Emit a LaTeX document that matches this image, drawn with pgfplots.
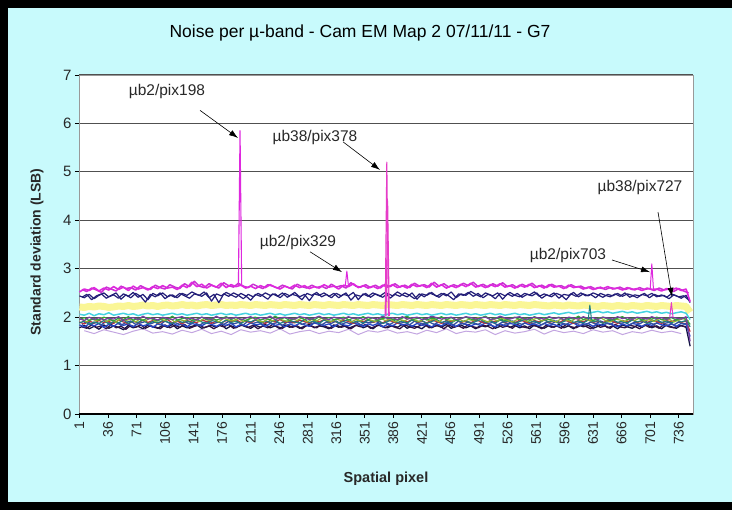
\documentclass[border=0pt]{standalone}
\usepackage{pgfplots}
\usepackage{pgfplotstable}
\pgfplotsset{compat=1.18}
\usepackage{fontspec}
\setmainfont{Liberation Sans}
\usetikzlibrary{arrows.meta}
\definecolor{bgcyan}{RGB}{200,250,252}
\definecolor{cmag}{RGB}{222,40,222}
\definecolor{cmag2}{RGB}{200,50,210}
\definecolor{cnav}{RGB}{35,30,120}
\definecolor{cyel}{RGB}{250,246,150}
\definecolor{ccya}{RGB}{70,210,225}
\definecolor{cgrn}{RGB}{50,160,60}
\definecolor{ctea}{RGB}{30,125,130}
\definecolor{cred}{RGB}{190,50,60}
\definecolor{cblu}{RGB}{40,70,200}
\definecolor{cpur}{RGB}{120,60,160}
\definecolor{cdk}{RGB}{20,20,70}
\definecolor{colv}{RGB}{150,180,50}
\definecolor{croy}{RGB}{50,80,160}
\definecolor{cdp}{RGB}{50,20,70}
\definecolor{clav}{RGB}{195,165,225}
\definecolor{cpink}{RGB}{230,60,200}
\definecolor{gridc}{RGB}{80,80,80}
\definecolor{txt}{RGB}{40,40,40}

\pgfplotstableread{
x mag nav yel cya grn tea red blu pur dk
1 2.52 2.44 2.21 2.06 1.95 1.88 1.90 1.84 1.97 1.78
7 2.58 2.40 2.20 2.04 1.99 1.92 1.86 1.80 1.93 1.83
13 2.55 2.47 2.22 2.08 1.93 1.85 1.92 1.86 2.00 1.76
19 2.61 2.38 2.21 2.03 1.97 1.90 1.88 1.82 1.95 1.81
25 2.54 2.45 2.23 2.07 1.94 1.87 1.93 1.87 1.99 1.75
31 2.60 2.50 2.22 2.05 2.00 1.93 1.89 1.79 1.94 1.84
37 2.56 2.42 2.20 2.09 1.96 1.86 1.91 1.85 1.98 1.77
43 2.63 2.46 2.21 2.04 1.92 1.91 1.87 1.81 1.96 1.82
49 2.57 2.39 2.23 2.06 1.98 1.88 1.94 1.88 2.01 1.79
55 2.62 2.48 2.22 2.08 1.95 1.94 1.90 1.83 1.93 1.74
61 2.55 2.43 2.24 2.05 2.01 1.87 1.86 1.86 1.97 1.83
67 2.64 2.51 2.22 2.07 1.94 1.92 1.92 1.80 1.99 1.78
73 2.58 2.41 2.23 2.03 1.97 1.89 1.88 1.87 1.95 1.81
79 2.61 2.47 2.25 2.06 1.93 1.95 1.94 1.82 2.02 1.76
85 2.56 2.36 2.23 2.08 1.99 1.86 1.89 1.85 1.96 1.84
91 2.63 2.49 2.24 2.05 1.96 1.91 1.93 1.79 1.98 1.80
97 2.59 2.44 2.22 2.07 1.92 1.88 1.87 1.86 1.94 1.77
103 2.65 2.50 2.24 2.04 1.98 1.93 1.91 1.84 2.00 1.83
109 2.60 2.42 2.25 2.06 1.95 1.90 1.95 1.81 1.97 1.79
115 2.62 2.46 2.23 2.08 2.02 1.87 1.88 1.88 1.95 1.85
121 2.57 2.40 2.24 2.05 1.94 1.94 1.92 1.83 1.99 1.76
127 2.66 2.49 2.26 2.07 1.97 1.89 1.86 1.86 2.01 1.82
133 2.61 2.45 2.24 2.04 1.99 1.92 1.93 1.80 1.96 1.78
139 2.72 2.52 2.25 2.06 1.93 1.88 1.90 1.87 1.98 1.81
145 2.63 2.47 2.23 2.08 1.96 1.95 1.89 1.84 1.94 1.84
151 2.68 2.43 2.25 2.05 2.00 1.90 1.94 1.82 2.00 1.77
157 2.60 2.50 2.26 2.07 1.95 1.87 1.91 1.88 1.97 1.80
163 2.66 2.33 2.24 2.04 1.98 1.93 1.87 1.85 1.95 1.83
169 2.62 2.48 2.25 2.06 1.94 1.91 1.92 1.81 2.02 1.79
175 2.70 2.44 2.26 2.08 1.97 1.88 1.88 1.86 1.96 1.85
181 2.61 2.51 2.24 2.05 2.01 1.94 1.93 1.83 1.99 1.76
187 2.67 2.46 2.25 2.07 1.95 1.89 1.90 1.87 1.97 1.82
193 2.63 2.41 2.24 2.04 1.99 1.92 1.95 1.80 2.00 1.78
199 2.66 2.49 2.26 2.06 1.96 1.87 1.89 1.85 1.95 1.84
205 2.60 2.44 2.25 2.08 1.93 1.93 1.92 1.82 1.98 1.80
211 2.64 2.35 2.24 2.05 1.98 1.90 1.88 1.88 2.01 1.77
217 2.59 2.47 2.26 2.07 2.00 1.95 1.94 1.84 1.96 1.83
223 2.65 2.43 2.25 2.04 1.94 1.88 1.91 1.86 1.99 1.79
229 2.61 2.50 2.24 2.06 1.97 1.92 1.87 1.81 1.97 1.85
235 2.67 2.45 2.26 2.08 1.95 1.89 1.93 1.87 2.02 1.78
241 2.62 2.48 2.25 2.05 2.02 1.94 1.90 1.83 1.95 1.82
247 2.58 2.40 2.24 2.07 1.96 1.87 1.95 1.85 1.98 1.76
253 2.64 2.49 2.26 2.04 1.99 1.91 1.89 1.80 2.00 1.84
259 2.60 2.44 2.25 2.06 1.93 1.93 1.92 1.86 1.97 1.79
265 2.66 2.51 2.24 2.08 1.97 1.90 1.88 1.82 1.96 1.83
271 2.61 2.42 2.26 2.05 2.00 1.88 1.94 1.87 2.01 1.77
277 2.65 2.47 2.25 2.07 1.95 1.95 1.91 1.84 1.99 1.81
283 2.59 2.34 2.24 2.04 1.98 1.89 1.87 1.81 1.95 1.85
289 2.63 2.48 2.26 2.06 1.94 1.92 1.93 1.88 1.98 1.78
295 2.60 2.45 2.25 2.08 2.01 1.87 1.90 1.85 2.02 1.82
301 2.67 2.50 2.24 2.05 1.96 1.94 1.95 1.83 1.97 1.80
307 2.62 2.43 2.26 2.07 1.99 1.90 1.89 1.86 1.95 1.76
313 2.64 2.49 2.25 2.04 1.95 1.93 1.92 1.80 2.00 1.84
319 2.58 2.40 2.24 2.06 1.97 1.88 1.88 1.87 1.98 1.79
325 2.66 2.47 2.26 2.08 2.00 1.91 1.94 1.84 1.96 1.83
331 2.63 2.44 2.25 2.05 1.94 1.95 1.91 1.82 2.01 1.77
337 2.69 2.51 2.24 2.07 1.98 1.89 1.87 1.88 1.97 1.81
343 2.61 2.36 2.26 2.04 1.96 1.92 1.93 1.85 1.99 1.85
349 2.65 2.48 2.25 2.06 2.01 1.88 1.90 1.81 1.95 1.78
355 2.60 2.43 2.24 2.08 1.95 1.94 1.95 1.86 2.00 1.82
361 2.64 2.50 2.26 2.05 1.99 1.90 1.89 1.83 1.98 1.76
367 2.59 2.45 2.25 2.07 1.93 1.93 1.92 1.87 1.96 1.84
373 2.66 2.41 2.24 2.04 1.97 1.87 1.88 1.80 2.02 1.80
379 2.62 2.49 2.26 2.06 2.00 1.91 1.94 1.85 1.97 1.78
385 2.67 2.44 2.25 2.08 1.96 1.95 1.91 1.82 1.99 1.83
391 2.61 2.52 2.24 2.05 1.94 1.89 1.87 1.88 1.95 1.79
397 2.65 2.46 2.26 2.07 1.98 1.92 1.93 1.84 2.01 1.85
403 2.60 2.42 2.25 2.04 2.02 1.88 1.90 1.86 1.96 1.77
409 2.68 2.50 2.24 2.06 1.95 1.94 1.95 1.81 1.98 1.82
415 2.63 2.37 2.26 2.08 1.97 1.90 1.89 1.87 2.00 1.80
421 2.66 2.48 2.25 2.05 1.99 1.93 1.92 1.83 1.95 1.76
427 2.61 2.45 2.24 2.07 1.94 1.87 1.88 1.85 1.97 1.84
433 2.70 2.51 2.26 2.04 1.98 1.91 1.94 1.80 2.02 1.78
439 2.62 2.43 2.25 2.06 1.96 1.95 1.91 1.86 1.99 1.83
445 2.67 2.49 2.24 2.08 2.01 1.89 1.87 1.82 1.96 1.79
451 2.60 2.44 2.26 2.05 1.95 1.92 1.93 1.88 1.98 1.85
457 2.65 2.52 2.25 2.07 1.99 1.88 1.90 1.84 2.00 1.77
463 2.61 2.40 2.24 2.04 1.93 1.94 1.95 1.81 1.95 1.81
469 2.68 2.48 2.26 2.06 1.97 1.90 1.89 1.87 1.97 1.84
475 2.63 2.45 2.25 2.08 2.00 1.93 1.92 1.85 2.01 1.78
481 2.70 2.53 2.24 2.05 1.96 1.87 1.88 1.82 1.99 1.82
487 2.62 2.47 2.26 2.07 1.94 1.91 1.94 1.86 1.96 1.76
493 2.66 2.42 2.25 2.04 1.98 1.95 1.91 1.83 1.98 1.83
499 2.61 2.50 2.24 2.06 2.02 1.89 1.87 1.88 2.00 1.80
505 2.67 2.46 2.26 2.08 1.95 1.92 1.93 1.84 1.95 1.85
511 2.63 2.38 2.25 2.05 1.99 1.88 1.90 1.80 1.97 1.77
517 2.69 2.49 2.24 2.07 1.96 1.94 1.95 1.86 2.02 1.81
523 2.62 2.44 2.26 2.04 1.93 1.90 1.89 1.82 1.98 1.84
529 2.65 2.51 2.25 2.06 1.97 1.93 1.92 1.87 1.96 1.79
535 2.60 2.45 2.24 2.08 2.00 1.87 1.88 1.85 1.99 1.83
541 2.66 2.42 2.26 2.05 1.95 1.91 1.94 1.81 2.01 1.78
547 2.62 2.49 2.25 2.07 1.98 1.95 1.91 1.88 1.95 1.82
553 2.68 2.46 2.24 2.04 1.94 1.89 1.87 1.84 1.97 1.76
559 2.61 2.52 2.26 2.06 2.01 1.92 1.93 1.86 2.00 1.84
565 2.65 2.43 2.25 2.08 1.96 1.88 1.90 1.82 1.98 1.80
571 2.60 2.48 2.24 2.05 1.99 1.94 1.95 1.87 1.96 1.77
577 2.67 2.44 2.23 2.07 1.95 1.90 1.89 1.83 2.01 1.83
583 2.62 2.50 2.25 2.09 1.97 1.93 1.92 1.85 1.97 1.79
589 2.64 2.39 2.24 2.06 2.00 1.87 1.88 1.81 1.99 1.85
595 2.59 2.47 2.23 2.08 1.94 1.91 1.94 1.86 1.95 1.78
601 2.66 2.45 2.25 2.10 1.98 1.95 1.91 1.84 2.00 1.82
607 2.61 2.51 2.24 2.07 1.96 1.89 1.87 1.88 1.98 1.76
613 2.63 2.42 2.23 2.09 2.02 1.92 1.93 1.82 1.96 1.84
619 2.58 2.48 2.25 2.11 1.95 1.88 1.90 1.85 2.01 1.80
625 2.62 2.44 2.24 2.08 1.99 1.94 1.95 1.87 1.97 1.83
631 2.57 2.50 2.23 2.10 1.93 1.90 1.89 1.81 1.99 1.77
637 2.61 2.46 2.22 2.12 1.97 1.93 1.92 1.86 1.95 1.81
643 2.59 2.41 2.24 2.09 2.00 1.87 1.88 1.83 2.00 1.85
649 2.63 2.47 2.23 2.11 1.96 1.91 1.94 1.88 1.98 1.78
655 2.58 2.44 2.22 2.08 1.94 1.95 1.91 1.84 1.96 1.82
661 2.60 2.49 2.24 2.10 1.98 1.89 1.87 1.80 2.01 1.76
667 2.56 2.43 2.23 2.12 2.01 1.92 1.93 1.86 1.97 1.84
673 2.61 2.48 2.22 2.09 1.95 1.88 1.90 1.82 1.99 1.80
679 2.57 2.45 2.24 2.11 1.97 1.94 1.95 1.87 1.95 1.77
685 2.59 2.40 2.23 2.08 1.99 1.90 1.89 1.85 2.00 1.83
691 2.55 2.47 2.22 2.10 1.94 1.93 1.92 1.81 1.98 1.79
697 2.60 2.44 2.24 2.12 1.98 1.87 1.88 1.86 1.96 1.85
703 2.57 2.49 2.23 2.09 1.96 1.91 1.94 1.83 2.01 1.78
709 2.58 2.42 2.22 2.11 2.00 1.95 1.91 1.88 1.97 1.82
715 2.54 2.46 2.24 2.08 1.95 1.89 1.87 1.84 1.99 1.76
721 2.59 2.41 2.23 2.10 1.97 1.92 1.93 1.82 1.95 1.84
727 2.56 2.48 2.22 2.07 1.99 1.88 1.90 1.86 2.00 1.80
733 2.60 2.44 2.24 2.09 1.94 1.94 1.95 1.81 1.98 1.77
739 2.55 2.39 2.23 2.11 1.98 1.90 1.89 1.87 1.96 1.83
745 2.58 2.45 2.22 2.08 1.96 1.93 1.92 1.85 2.01 1.79
750 2.32 2.30 2.10 1.95 1.85 1.80 1.70 1.60 1.50 1.40
}\noise

\pgfplotstableread{
x m2 n2 olv roy dpu
4 2.57 2.41 1.96 1.85 1.80
10 2.53 2.47 1.90 1.91 1.77
16 2.60 2.36 1.97 1.86 1.84
22 2.56 2.44 1.92 1.89 1.79
28 2.51 2.48 1.99 1.84 1.82
34 2.62 2.39 1.91 1.92 1.76
40 2.58 2.45 1.95 1.87 1.85
46 2.54 2.50 1.89 1.90 1.78
52 2.64 2.37 1.98 1.83 1.81
58 2.59 2.46 1.93 1.89 1.75
64 2.61 2.40 1.96 1.92 1.83
70 2.56 2.49 1.90 1.85 1.79
76 2.65 2.43 1.97 1.88 1.84
82 2.60 2.31 1.92 1.91 1.77
88 2.57 2.47 1.99 1.86 1.82
94 2.66 2.42 1.91 1.90 1.80
100 2.61 2.50 1.96 1.84 1.76
106 2.58 2.38 1.93 1.92 1.84
112 2.67 2.46 1.98 1.87 1.78
118 2.62 2.41 1.90 1.89 1.83
124 2.59 2.49 1.95 1.85 1.79
130 2.69 2.44 1.92 1.91 1.85
136 2.63 2.39 1.99 1.86 1.77
142 2.74 2.48 1.94 1.90 1.81
148 2.64 2.45 1.91 1.83 1.84
154 2.61 2.52 1.97 1.89 1.78
160 2.69 2.40 1.93 1.92 1.82
166 2.64 2.47 1.96 1.87 1.76
172 2.60 2.30 1.90 1.90 1.83
178 2.71 2.48 1.98 1.85 1.80
184 2.65 2.43 1.94 1.91 1.85
190 2.62 2.50 1.92 1.86 1.77
196 2.70 2.45 1.97 1.89 1.81
202 2.64 2.38 1.91 1.84 1.84
208 2.61 2.47 1.95 1.92 1.79
214 2.68 2.42 1.99 1.87 1.83
220 2.63 2.49 1.93 1.90 1.76
226 2.59 2.44 1.90 1.85 1.82
232 2.67 2.37 1.96 1.91 1.78
238 2.64 2.48 1.92 1.86 1.85
244 2.60 2.43 1.98 1.89 1.80
250 2.66 2.50 1.94 1.83 1.77
256 2.62 2.41 1.91 1.90 1.84
262 2.58 2.47 1.97 1.88 1.79
268 2.68 2.44 1.93 1.92 1.82
274 2.63 2.36 1.99 1.85 1.76
280 2.60 2.49 1.90 1.89 1.83
286 2.66 2.45 1.95 1.86 1.81
292 2.61 2.51 1.92 1.91 1.78
298 2.64 2.42 1.98 1.84 1.85
304 2.59 2.47 1.94 1.90 1.80
310 2.68 2.40 1.91 1.87 1.77
316 2.62 2.49 1.96 1.92 1.84
322 2.65 2.44 1.93 1.85 1.79
328 2.60 2.50 1.99 1.89 1.82
334 2.71 2.35 1.90 1.86 1.76
340 2.64 2.46 1.95 1.91 1.83
346 2.62 2.43 1.92 1.84 1.80
352 2.67 2.49 1.97 1.90 1.85
358 2.61 2.41 1.94 1.88 1.77
364 2.66 2.48 1.91 1.92 1.81
370 2.60 2.44 1.98 1.86 1.84
376 2.68 2.51 1.93 1.89 1.78
382 2.63 2.39 1.96 1.85 1.83
388 2.69 2.47 1.90 1.91 1.79
394 2.62 2.43 1.95 1.87 1.76
400 2.66 2.50 1.92 1.90 1.84
406 2.61 2.45 1.99 1.84 1.80
412 2.70 2.38 1.94 1.92 1.77
418 2.64 2.48 1.91 1.88 1.82
424 2.67 2.42 1.97 1.86 1.85
430 2.62 2.50 1.93 1.90 1.78
436 2.72 2.46 1.96 1.85 1.81
442 2.64 2.41 1.90 1.91 1.83
448 2.69 2.49 1.98 1.87 1.76
454 2.62 2.44 1.94 1.89 1.84
460 2.67 2.36 1.92 1.84 1.79
466 2.63 2.48 1.97 1.92 1.82
472 2.70 2.45 1.91 1.86 1.77
478 2.65 2.51 1.95 1.90 1.85
484 2.72 2.43 1.93 1.88 1.80
490 2.63 2.49 1.99 1.85 1.78
496 2.68 2.40 1.94 1.91 1.83
502 2.62 2.47 1.90 1.87 1.81
508 2.69 2.44 1.96 1.89 1.76
514 2.64 2.50 1.92 1.84 1.84
520 2.71 2.37 1.98 1.90 1.79
526 2.63 2.48 1.93 1.86 1.82
532 2.67 2.43 1.90 1.92 1.77
538 2.61 2.49 1.95 1.88 1.85
544 2.68 2.41 1.97 1.85 1.80
550 2.63 2.47 1.91 1.91 1.78
556 2.70 2.44 1.94 1.87 1.83
562 2.62 2.50 1.98 1.89 1.81
568 2.66 2.39 1.92 1.84 1.76
574 2.61 2.46 1.96 1.90 1.84
580 2.68 2.42 1.93 1.86 1.79
586 2.63 2.49 1.90 1.92 1.82
592 2.65 2.45 1.97 1.88 1.77
598 2.60 2.36 1.94 1.85 1.85
604 2.67 2.48 1.91 1.91 1.80
610 2.62 2.43 1.98 1.87 1.78
616 2.64 2.50 1.93 1.89 1.83
622 2.59 2.44 1.96 1.84 1.81
628 2.63 2.47 1.92 1.90 1.76
634 2.58 2.40 1.95 1.86 1.84
640 2.62 2.49 1.99 1.92 1.79
646 2.57 2.45 1.93 1.88 1.82
652 2.61 2.42 1.90 1.85 1.77
658 2.59 2.48 1.96 1.91 1.85
664 2.62 2.43 1.94 1.87 1.80
670 2.57 2.50 1.91 1.89 1.78
676 2.60 2.41 1.97 1.84 1.83
682 2.56 2.46 1.93 1.90 1.81
688 2.61 2.44 1.98 1.86 1.76
694 2.57 2.49 1.92 1.92 1.84
700 2.59 2.40 1.95 1.88 1.79
706 2.55 2.47 1.91 1.85 1.82
712 2.60 2.43 1.97 1.91 1.77
718 2.56 2.45 1.93 1.87 1.85
724 2.58 2.38 1.96 1.89 1.80
730 2.53 2.46 1.90 1.84 1.78
736 2.59 2.42 1.94 1.90 1.83
742 2.54 2.44 1.97 1.86 1.81
748 2.50 2.36 1.92 1.88 1.79
}\noiseb

\pgfplotstableread{
x lav
7 1.72
19 1.66
31 1.74
43 1.69
55 1.64
67 1.71
79 1.76
91 1.67
103 1.70
115 1.65
127 1.73
139 1.68
151 1.75
163 1.66
175 1.71
187 1.64
199 1.74
211 1.69
223 1.72
235 1.67
247 1.76
259 1.65
271 1.70
283 1.73
295 1.66
307 1.71
319 1.68
331 1.75
343 1.64
355 1.72
367 1.69
379 1.74
391 1.67
403 1.70
415 1.65
427 1.73
439 1.68
451 1.76
463 1.66
475 1.71
487 1.69
499 1.74
511 1.64
523 1.72
535 1.67
547 1.70
559 1.75
571 1.65
583 1.73
595 1.68
607 1.71
619 1.66
631 1.74
643 1.69
655 1.72
667 1.64
679 1.70
691 1.67
703 1.73
715 1.68
727 1.71
739 1.66
}\noisec

\begin{document}
\begin{tikzpicture}
\useasboundingbox (0,0) rectangle (732pt,510pt);
\fill[bgcyan] (0,0) rectangle (732pt,510pt);
\fill[black] (0,0) rectangle (8pt,510pt);
\fill[black] (0,502pt) rectangle (732pt,510pt);
\fill[black] (0,0) rectangle (732pt,8pt);
\begin{axis}[
  at={(79pt,96pt)}, anchor=south west,
  scale only axis, width=614pt, height=339pt,
  xmin=0.5, xmax=753.5, ymin=0, ymax=7,
  axis background/.style={fill=white},
  axis line style={draw=gray!80, line width=0.6pt},
  ytick={0,1,...,7},
  xtick={1,36,...,736},
  ymajorgrids,
  major grid style={gridc, line width=1.2pt},
  tick align=outside,
  major tick length=4pt,
  tick style={black, line width=0.8pt},
  xtick pos=bottom, ytick pos=left,
  /pgf/number format/assume math mode=true,
  /pgf/number format/1000 sep={},
  yticklabel style={font=\fontsize{15}{15}\selectfont, text=txt},
  xticklabel style={font=\fontsize{14}{14}\selectfont, text=txt, rotate=90, anchor=east},
  clip=false,
  every axis plot/.append style={line join=round},
]
\addplot[clav, line width=1pt] table[x=x,y=lav] {\noisec};
\addplot[cyel, line width=7pt] table[x=x,y=yel] {\noise};
\addplot[cdk, line width=1.3pt] table[x=x,y=dk] {\noise};
\addplot[cdp, line width=1.3pt] table[x=x,y=dpu] {\noiseb};
\addplot[cblu, line width=1.3pt] table[x=x,y=blu] {\noise};
\addplot[croy, line width=1.3pt] table[x=x,y=roy] {\noiseb};
\addplot[cred, line width=1.2pt] table[x=x,y=red] {\noise};
\addplot[ctea, line width=1.2pt] table[x=x,y=tea] {\noise};
\addplot[colv, line width=1.2pt] table[x=x,y=olv] {\noiseb};
\addplot[cgrn, line width=1.2pt] table[x=x,y=grn] {\noise};
\addplot[cpur, line width=1.2pt] table[x=x,y=pur] {\noise};
\addplot[ccya, line width=1.5pt] table[x=x,y=cya] {\noise};
\addplot[cnav, line width=1.2pt] table[x=x,y=nav] {\noise};
\addplot[cnav, line width=1.2pt] table[x=x,y=n2] {\noiseb};
\addplot[cmag2, line width=1.5pt] table[x=x,y=m2] {\noiseb};
\addplot[cmag, line width=1.6pt] table[x=x,y=mag] {\noise};
% spikes
\addplot[cmag, line width=1.1pt] coordinates {(196,2.66) (198,5.85) (200,2.66)};
\addplot[cmag, line width=1pt] coordinates {(327,2.64) (329,2.95) (331,2.64)};
\addplot[cpink, line width=1.1pt] coordinates {(376,2.02) (378,5.20) (380,2.02)};
\addplot[cpink, line width=1.1pt] coordinates {(377,2.02) (379,4.40) (381,2.02)};
\addplot[cmag, line width=1pt] coordinates {(701,2.58) (703,3.10) (705,2.58)};
\addplot[cpink, line width=1pt] coordinates {(725,2.00) (727,2.30) (729,2.00)};
\addplot[ctea, line width=1pt] coordinates {(625,1.95) (627,2.25) (629,1.95)};
% thick x axis line
\draw[black, line width=2.5pt] (axis cs:0.5,0) -- (axis cs:753.5,0);
% annotations
\tikzset{ann/.style={font=\fontsize{15.5}{15.5}\selectfont, text=txt}}
\node[ann] at (axis cs:108.4,6.65) {µb2/pix198};
\draw[-{Latex[length=9pt,width=6pt]}, black, line width=0.6pt] (axis cs:148.9,6.27) -- (axis cs:195.5,5.70);
\node[ann] at (axis cs:289.9,5.70) {µb38/pix378};
\draw[-{Latex[length=9pt,width=6pt]}, black, line width=0.6pt] (axis cs:324.3,5.62) -- (axis cs:369.6,5.04);
\node[ann] at (axis cs:269.1,3.55) {µb2/pix329};
\draw[-{Latex[length=9pt,width=6pt]}, black, line width=0.6pt] (axis cs:283.8,3.35) -- (axis cs:323,2.93);
\node[ann] at (axis cs:688.5,4.67) {µb38/pix727};
\draw[-{Latex[length=9pt,width=6pt]}, black, line width=0.6pt] (axis cs:710.6,4.17) -- (axis cs:727.7,2.42);
\node[ann] at (axis cs:600.2,3.28) {µb2/pix703};
\draw[-{Latex[length=9pt,width=6pt]}, black, line width=0.6pt] (axis cs:654.2,3.18) -- (axis cs:700.8,2.93);
\end{axis}
\node[font=\fontsize{17.5}{17.5}\selectfont, text=black] at (360pt,477pt) {Noise per µ-band - Cam EM Map 2 07/11/11 - G7};
\node[font=\bfseries\fontsize{14}{14}\selectfont, text=txt, rotate=90] at (37pt,258pt) {Standard deviation (LSB)};
\node[font=\bfseries\fontsize{14.5}{14.5}\selectfont, text=txt] at (386pt,31pt) {Spatial pixel};
\end{tikzpicture}
\end{document}
